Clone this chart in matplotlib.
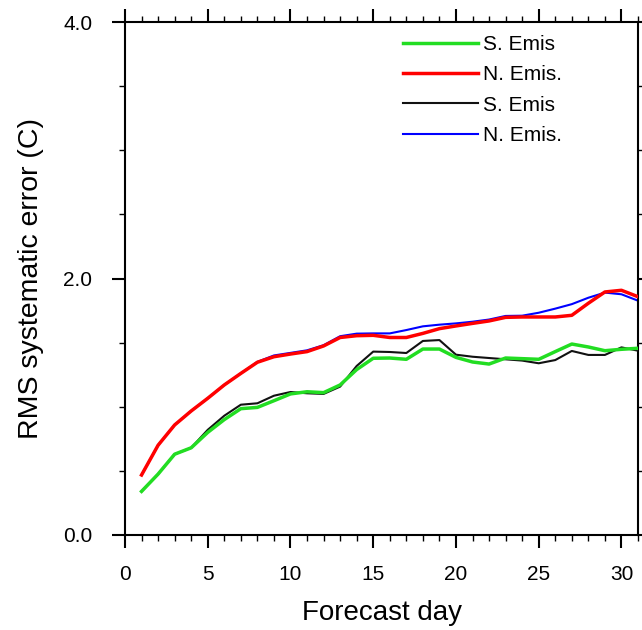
import matplotlib
matplotlib.use("Agg")
import matplotlib.pyplot as plt
from matplotlib.ticker import MultipleLocator, FormatStrFormatter

plt.rcParams['font.family'] = ['Liberation Sans', 'DejaVu Sans']

days = list(range(1, 32))

# S. Emis (thick green)
s_emis_a = [0.34, 0.475, 0.63, 0.68, 0.80, 0.90, 0.985, 0.995, 1.047, 1.10,
            1.117, 1.11, 1.17, 1.29, 1.378, 1.38, 1.37, 1.45, 1.45, 1.385,
            1.349, 1.333, 1.38, 1.375, 1.37, 1.43, 1.489, 1.466, 1.437, 1.448, 1.456]
# N. Emis. (thick red)
n_emis_a = [0.468, 0.70, 0.858, 0.967, 1.066, 1.17, 1.26, 1.347, 1.39, 1.411,
            1.43, 1.474, 1.54, 1.554, 1.557, 1.54, 1.54, 1.572, 1.609, 1.63,
            1.65, 1.669, 1.697, 1.70, 1.70, 1.70, 1.713, 1.807, 1.895, 1.908, 1.858]
# S. Emis (thin black)
s_emis_b = [0.34, 0.475, 0.63, 0.68, 0.82, 0.93, 1.016, 1.027, 1.086, 1.115,
            1.105, 1.10, 1.157, 1.318, 1.43, 1.427, 1.419, 1.513, 1.52, 1.406,
            1.39, 1.38, 1.37, 1.36, 1.339, 1.364, 1.435, 1.404, 1.404, 1.463, 1.437]
# N. Emis. (thin blue)
n_emis_b = [0.468, 0.70, 0.858, 0.967, 1.066, 1.17, 1.26, 1.35, 1.40, 1.42,
            1.44, 1.48, 1.55, 1.57, 1.572, 1.572, 1.598, 1.627, 1.64, 1.65,
            1.663, 1.68, 1.708, 1.71, 1.733, 1.765, 1.80, 1.85, 1.89, 1.877, 1.827]

labels = ['S. Emis', 'N. Emis.', 'S. Emis', 'N. Emis.']

fig = plt.figure(figsize=(6.42, 6.30), dpi=100)
ax = fig.add_axes([125 / 642, 95 / 630, 513 / 642, 513 / 630])

l1, = ax.plot(days, s_emis_a, color='#22dd22', lw=2.5, zorder=4)
l2, = ax.plot(days, n_emis_a, color='#ff0000', lw=2.5, zorder=5)
l3, = ax.plot(days, s_emis_b, color='#111111', lw=1.5, zorder=3)
l4, = ax.plot(days, n_emis_b, color='#0000ff', lw=1.5, zorder=2)

ax.set_xlim(0, 31)
ax.set_ylim(0, 4)
ax.xaxis.set_major_locator(MultipleLocator(5))
ax.xaxis.set_minor_locator(MultipleLocator(1))
ax.yaxis.set_major_locator(MultipleLocator(2))
ax.yaxis.set_minor_locator(MultipleLocator(0.5))
ax.yaxis.set_major_formatter(FormatStrFormatter('%.1f'))

for s in ax.spines.values():
    s.set_linewidth(1.5)

ax.tick_params(which='both', direction='out', top=True, right=True,
               labeltop=False, labelright=False)
ax.tick_params(which='major', length=9.5, width=1.5, labelsize=15)
ax.tick_params(which='minor', length=4.5, width=1.0)
ax.tick_params(axis='x', which='major', pad=12)
ax.tick_params(axis='y', which='major', pad=14)

ax.set_xlabel('Forecast day', fontsize=20, labelpad=11.5)
ax.set_ylabel('RMS systematic error (C)', fontsize=20.5, labelpad=13.5)

leg = ax.legend([l1, l2, l3, l4], labels,
                loc='upper left', bbox_to_anchor=(0.542, 0.975), frameon=False,
                fontsize=15, handlelength=3.6, handletextpad=0.25,
                labelspacing=0.55, borderpad=0, borderaxespad=0)

fig.savefig('out.png', dpi=100)
